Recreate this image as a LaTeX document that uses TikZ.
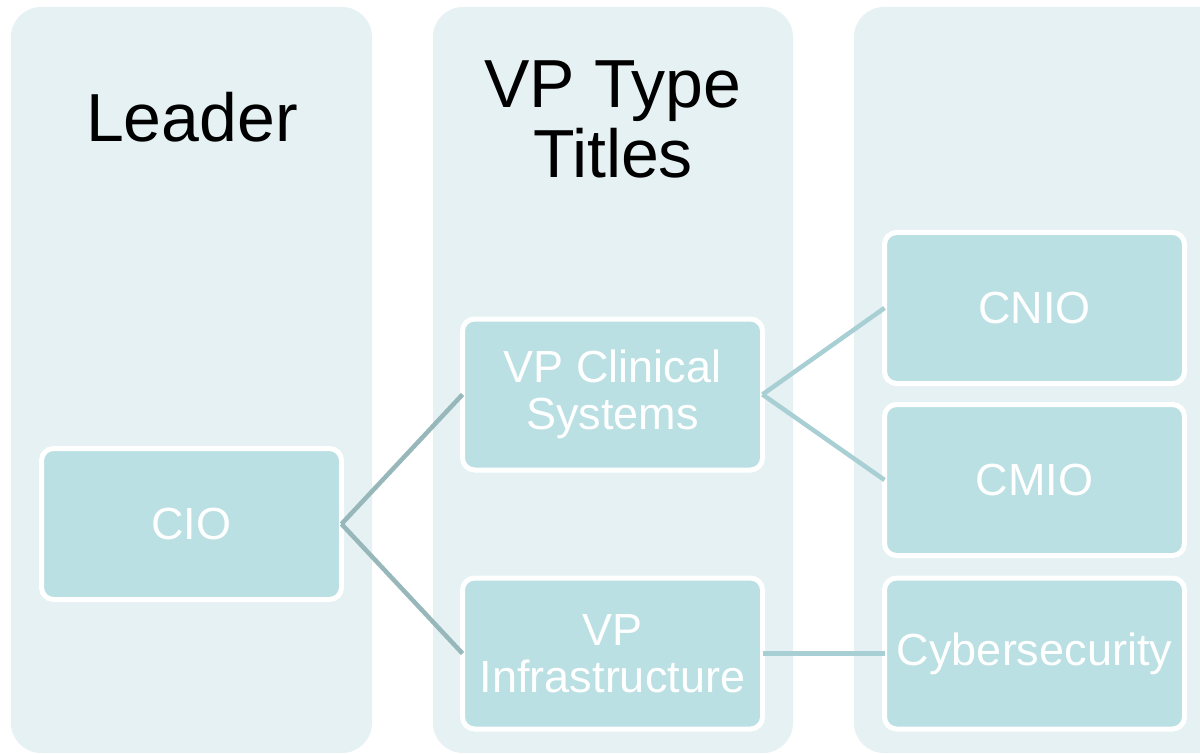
\documentclass[tikz,border=0pt]{standalone}
\usepackage{fontspec}
\setmainfont{Liberation Sans}
\definecolor{colbg}{HTML}{E5F1F3}
\definecolor{boxfill}{HTML}{BAE0E3}
\definecolor{linedark}{HTML}{97B7BA}
\definecolor{linelight}{HTML}{A8CFD3}
\tikzset{
  column/.style={fill=colbg, draw=none, rounded corners=30pt},
  orgbox/.style={rectangle, fill=boxfill, draw=white, line width=5pt, rounded corners=12pt,
    minimum width=300pt, minimum height=151pt, outer sep=0pt, inner sep=0pt,
    align=center, text=white, font=\fontsize{45}{47}\selectfont},
  title/.style={align=center, text=black, font=\fontsize{68}{70}\selectfont, inner sep=0pt},
  linkA/.style={draw=linedark, line width=4.5pt},
  linkB/.style={draw=linelight, line width=4.5pt},
}
\begin{document}
\begin{tikzpicture}[x=1pt,y=-1pt]
\useasboundingbox (0,0) rectangle (1200,754);
\begin{scope}
\clip (0,0) rectangle (1200,754);
\path[column] (11,7) rectangle (372,753);
\path[column] (433,7) rectangle (793,753);
\path[column] (854,7) rectangle (1240,753);
\end{scope}
\node[title, anchor=base] (leader) at (192,142) {Leader};
\node[title, anchor=base] (vptitle) at (613,178) {VP Type\\Titles};

\node[orgbox] (cio) at (191.5,524) {CIO};
\node[orgbox] (vpcs) at (612.5,394.5) {VP Clinical\\Systems};
\node[orgbox] (vpinf) at (612.5,653.5) {VP\\Infrastructure};
\node[orgbox] (cnio) at (1034.5,308) {CNIO};
\node[orgbox] (cmio) at (1034.5,480) {CMIO};
\node[orgbox] (cyber) at (1034.5,653.5) {Cybersecurity};

\draw[linkA] (cio.east) -- (vpcs.west);
\draw[linkA] (cio.east) -- (vpinf.west);
\draw[linkB] (vpcs.east) -- (cnio.west);
\draw[linkB] (vpcs.east) -- (cmio.west);
\draw[linkB] (vpinf.east) -- (cyber.west);
\end{tikzpicture}
\end{document}
